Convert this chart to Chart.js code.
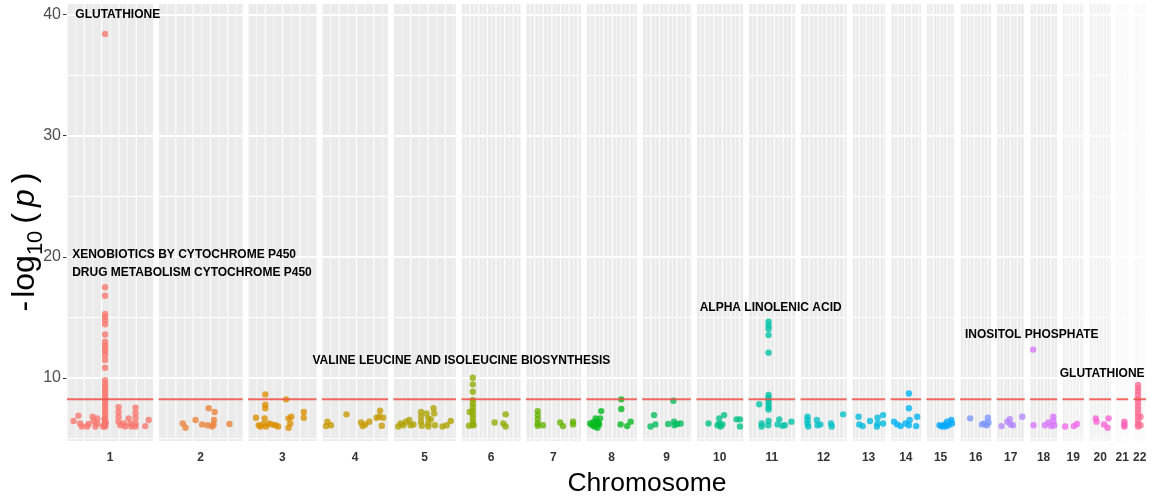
<!DOCTYPE html>
<html>
<head>
<meta charset="utf-8">
<script src="https://cdn.jsdelivr.net/npm/chart.js@4.4.1/dist/chart.umd.min.js"></script>
<style>
  html, body { margin: 0; background: #fff; }
  #wrap { width: 1153px; height: 499px; }
</style>
</head>
<body>
<div id="wrap"><canvas id="manhattan" width="1153" height="499"></canvas></div>
<script>
// chromosome extents (Mb) shown in each facet
const chromosomes = ['1','2','3','4','5','6','7','8','9','10','11','12','13','14','15','16','17','18','19','20','21','22'];
const chromStart = [0, 0, 0, 0, 0, 0, 0, 0, 0, 0, 0, 0, 19, 19, 20, 0, 0, 0, 0, 0, 14, 15];
const chromEnd   = [249, 243, 198, 191, 181, 171, 159, 146, 141, 135, 135, 133, 115, 107, 102, 90, 81, 78, 62, 63, 48, 51];

// SNP position (Mb) and -log10(p), one list per chromosome
const positions = [
  [19, 33, 38, 43, 58, 62, 74, 77, 82, 87, 88, 104,
   110, 110, 110, 110, 110, 110, 110, 110, 110, 110, 110, 110, 110, 110, 110, 110, 110, 110, 110, 110, 110, 110, 110, 110, 110, 110, 110, 110, 110, 110, 110, 108, 112, 108,
   149, 149, 149, 149, 154, 164, 168, 178, 183, 186, 198, 198, 198, 198, 198, 226, 236],
  [70, 78, 107, 126, 142, 145, 155, 159, 160, 162, 205],
  [23, 31, 36, 48, 50, 50, 50, 45, 52, 60, 69, 79, 87, 110, 117, 122, 117, 125, 161, 161],
  [12, 16, 26, 71, 113, 118, 125, 137, 158, 166, 168, 173, 177],
  [14, 21, 29, 36, 46, 50, 58, 80, 80, 80, 82, 96, 101, 101, 101, 108, 116, 118, 120, 142, 154, 166],
  [33, 33, 33, 33, 33, 33, 33, 33, 33, 33, 33, 24, 22, 35, 96, 128, 121, 128],
  [34, 34, 34, 34, 34, 49, 99, 107, 136, 136],
  [11, 17, 24, 30, 37, 27, 43, 40, 32, 35, 20, 101, 101, 99, 118, 128],
  [24, 34, 38, 75, 90, 92, 93, 101, 111],
  [35, 66, 66, 70, 61, 75, 80, 116, 126, 126],
  [58, 58, 58, 58, 58, 58, 58, 58, 58, 58, 58, 31, 38, 38, 58, 57, 89, 84, 98, 105, 124],
  [20, 20, 20, 22, 47, 49, 57, 88, 90, 123],
  [38, 40, 50, 71, 93, 93, 91, 109, 109],
  [29, 38, 48, 62, 72, 72, 74, 72, 96, 93],
  [58, 65, 73, 80, 84, 92, 94, 75],
  [29, 63, 70, 80, 82, 77],
  [14, 31, 38, 40, 47, 74],
  [9, 10, 43, 53, 67, 67, 70, 61],
  [8, 33, 42],
  [19, 21, 43, 56, 53],
  [37, 37, 37],
  [28, 28, 28, 28, 28, 28, 28, 28, 28, 28, 28, 28, 28, 35, 35]
];
const logP = [
  [6.45, 6.9, 6.25, 6.0, 6.0, 6.2, 6.8, 6.45, 6.0, 6.67, 6.25, 6.0,
   38.43, 17.5, 16.8, 15.3, 15.05, 14.75, 14.45, 13.6, 13.0, 12.7, 12.45, 12.2, 11.9, 11.5, 10.85, 9.83, 9.56, 9.28, 9.0, 8.72, 8.45, 8.18, 7.9, 7.65, 7.4, 7.15, 6.9, 6.65, 6.4, 6.15, 6.0, 6.1, 6.3, 6.6,
   7.6, 7.2, 6.8, 6.4, 6.1, 6.25, 6.0, 6.67, 6.25, 6.0, 7.55, 7.1, 6.7, 6.25, 6.0, 6.03, 6.53],
  [6.25, 5.9, 6.53, 6.17, 6.1, 7.5, 6.0, 6.17, 6.53, 7.2, 6.2],
  [6.72, 6.1, 6.0, 6.67, 8.65, 7.8, 7.5, 6.2, 6.0, 6.25, 6.17, 6.1, 6.0, 8.24, 6.67, 6.25, 5.9, 6.8, 7.2, 6.72],
  [6.03, 6.4, 6.1, 7.0, 6.33, 6.03, 6.17, 6.4, 6.72, 6.8, 7.3, 6.06, 6.72],
  [6.0, 6.25, 6.1, 6.4, 6.53, 6.1, 6.17, 7.2, 6.8, 6.4, 6.06, 7.08, 6.67, 6.25, 6.0, 6.59, 7.5, 7.08, 6.1, 6.0, 6.1, 6.45],
  [10.02, 9.48, 8.87, 8.2, 7.9, 7.6, 7.3, 7.0, 6.7, 6.4, 6.15, 7.2, 6.06, 6.1, 6.33, 7.0, 6.25, 6.0],
  [7.27, 6.94, 6.6, 6.25, 6.06, 6.1, 6.33, 6.03, 6.4, 6.17],
  [6.25, 6.1, 6.0, 6.4, 6.17, 6.67, 7.27, 6.67, 5.9, 6.3, 6.35, 8.24, 7.44, 6.17, 6.03, 6.4],
  [6.0, 6.94, 6.17, 6.2, 8.13, 6.4, 6.1, 6.2, 6.25],
  [6.25, 6.67, 6.25, 6.0, 6.1, 6.17, 6.94, 6.59, 6.59, 6.0],
  [14.65, 14.35, 14.05, 13.55, 12.1, 8.6, 8.35, 8.1, 7.85, 7.6, 7.4, 7.83, 6.25, 6.0, 6.45, 6.1, 6.59, 6.17, 6.06, 6.1, 6.4],
  [6.8, 6.53, 6.25, 6.0, 6.53, 6.1, 6.17, 6.25, 6.0, 7.0],
  [6.8, 6.17, 6.03, 6.45, 6.72, 6.25, 6.0, 6.94, 6.25],
  [6.4, 6.17, 6.03, 6.25, 8.73, 7.5, 6.53, 6.1, 6.8, 6.03],
  [6.1, 6.0, 6.17, 6.4, 6.1, 6.53, 6.25, 6.0],
  [6.67, 6.17, 6.25, 6.72, 6.33, 6.1],
  [6.03, 6.4, 6.61, 6.17, 6.1, 6.8],
  [12.35, 6.1, 6.1, 6.33, 6.8, 6.45, 6.1, 6.03],
  [6.0, 6.03, 6.2],
  [6.67, 6.4, 6.17, 6.67, 5.9],
  [6.4, 6.17, 6.0],
  [9.42, 9.15, 8.9, 8.6, 8.3, 8.0, 7.7, 7.4, 7.1, 6.8, 6.5, 6.2, 6.0, 6.8, 6.1]
];

const threshold = 8.24;
const yTicks = [10, 20, 30, 40];

// pathway annotations
const pathwayNames = ['GLUTATHIONE', 'XENOBIOTICS BY CYTOCHROME P450', 'DRUG METABOLISM CYTOCHROME P450',
  'VALINE LEUCINE AND ISOLEUCINE BIOSYNTHESIS', 'ALPHA LINOLENIC ACID', 'INOSITOL PHOSPHATE', 'GLUTATHIONE'];
const pathwayChrom = ['1', '1', '1', '6', '11', '18', '22'];
const pathwayPos = [24, 15, 15, 0, 64, 5, 47];
const pathwayY = [40.04, 20.17, 18.68, 11.4, 15.85, 13.62, 10.33];
const pathwayAlign = ['left', 'left', 'left', 'center', 'center', 'center', 'right'];

const GAP = 15.5;
const FONT = '"Liberation Sans", Arial, Helvetica, sans-serif';

// cumulative offsets so every chromosome sits in its own facet on one linear axis
const offsets = [];
let acc = 0;
chromosomes.forEach((c, i) => {
  offsets.push(acc);
  acc += chromEnd[i] - chromStart[i] + GAP;
});
const xMax = acc - GAP;
const toAxis = (ci, mb) => offsets[ci] + (mb - chromStart[ci]);

// ggplot-style hue palette (polar LUV, l = 65, c = 100)
function hcl(h, c, l) {
  const hr = h * Math.PI / 180;
  const U = c * Math.cos(hr), V = c * Math.sin(hr);
  const Xn = 95.047, Yn = 100, Zn = 108.883;
  const Y = l > 8 ? Yn * Math.pow((l + 16) / 116, 3) : Yn * l / 903.3;
  const den = Xn + 15 * Yn + 3 * Zn;
  const u = U / (13 * l) + 4 * Xn / den;
  const v = V / (13 * l) + 9 * Yn / den;
  const X = 9 * Y * u / (4 * v);
  const Z = -X / 3 - 5 * Y + 3 * Y / v;
  const x = X / 100, y = Y / 100, z = Z / 100;
  const lin = [
    3.240479 * x - 1.537150 * y - 0.498535 * z,
    -0.969256 * x + 1.875992 * y + 0.041556 * z,
    0.055648 * x - 0.204043 * y + 1.057311 * z
  ];
  return lin.map(t => {
    const g = t <= 0.0031308 ? 12.92 * t : 1.055 * Math.pow(t, 1 / 2.4) - 0.055;
    return Math.round(Math.min(1, Math.max(0, g)) * 255);
  });
}
const palette = chromosomes.map((c, i) => hcl(15 + i * 360 / chromosomes.length, 100, 65));

function niceStep(span) {
  const raw = span / 5;
  const mag = Math.pow(10, Math.floor(Math.log10(raw)));
  const n = raw / mag;
  const f = n < 1.5 ? 1 : n < 2.25 ? 2 : n < 3.5 ? 2.5 : n < 7.5 ? 5 : 10;
  return f * mag;
}

const datasets = chromosomes.map((c, i) => {
  const [r, g, b] = palette[i];
  return {
    type: 'scatter',
    label: 'chr' + c,
    data: positions[i].map((p, j) => ({ x: toAxis(i, p), y: logP[i][j] })),
    backgroundColor: `rgba(${r},${g},${b},0.78)`,
    borderWidth: 0,
    pointRadius: 3.2,
    pointHoverRadius: 3.2,
    order: 1
  };
});

// significance line, broken between facets
const thrData = [];
chromosomes.forEach((c, i) => {
  thrData.push({ x: toAxis(i, chromStart[i]), y: threshold });
  thrData.push({ x: toAxis(i, chromEnd[i]), y: threshold });
  thrData.push({ x: toAxis(i, chromEnd[i]) + GAP / 2, y: null });
});
datasets.push({
  type: 'line',
  label: 'threshold',
  data: thrData,
  borderColor: 'rgba(240, 80, 70, 0.85)',
  borderWidth: 2,
  pointRadius: 0,
  spanGaps: false,
  order: 0
});

const facetPanels = {
  id: 'facetPanels',
  beforeDatasetsDraw(chart) {
    const { ctx, chartArea, scales: { x, y } } = chart;
    ctx.save();
    chromosomes.forEach((c, i) => {
      const x0 = x.getPixelForValue(toAxis(i, chromStart[i]));
      const x1 = x.getPixelForValue(toAxis(i, chromEnd[i]));
      ctx.fillStyle = '#EBEBEB';
      ctx.fillRect(x0, chartArea.top, x1 - x0, chartArea.bottom - chartArea.top);
      ctx.strokeStyle = '#FFFFFF';
      // horizontal grid
      [5, 15, 25, 35].forEach(v => {
        const py = y.getPixelForValue(v);
        ctx.lineWidth = 1;
        ctx.beginPath(); ctx.moveTo(x0, py); ctx.lineTo(x1, py); ctx.stroke();
      });
      yTicks.forEach(v => {
        const py = y.getPixelForValue(v);
        ctx.lineWidth = 2;
        ctx.beginPath(); ctx.moveTo(x0, py); ctx.lineTo(x1, py); ctx.stroke();
      });
      // vertical grid from each facet's own breaks
      const step = niceStep(chromEnd[i] - chromStart[i]);
      for (let m = Math.ceil(chromStart[i] / (step / 2)) * (step / 2); m <= chromEnd[i]; m += step / 2) {
        const major = Math.abs(m / step - Math.round(m / step)) < 1e-6;
        const px = x.getPixelForValue(toAxis(i, m));
        ctx.lineWidth = major ? 1.1 : 0.6;
        ctx.beginPath(); ctx.moveTo(px, chartArea.top); ctx.lineTo(px, chartArea.bottom); ctx.stroke();
      }
    });
    ctx.restore();
  },
  afterDatasetsDraw(chart) {
    const { ctx, scales: { x, y } } = chart;
    ctx.save();
    ctx.fillStyle = '#000';
    ctx.font = 'bold 12px ' + FONT;
    ctx.textBaseline = 'middle';
    pathwayNames.forEach((name, k) => {
      const ci = chromosomes.indexOf(pathwayChrom[k]);
      ctx.textAlign = pathwayAlign[k];
      ctx.fillText(name, x.getPixelForValue(toAxis(ci, pathwayPos[k])), y.getPixelForValue(pathwayY[k]));
    });
    ctx.restore();
  },
  afterDraw(chart) {
    const { ctx } = chart;
    ctx.save();
    // x title
    ctx.fillStyle = '#000';
    ctx.font = '26.5px ' + FONT;
    ctx.textAlign = 'center';
    ctx.textBaseline = 'alphabetic';
    ctx.fillText('Chromosome', 647, 491);
    // y title: -log10(p) with subscript and italic p
    const fs = 32, sub = 22;
    const parts = [
      { t: '-', f: fs + 'px ' + FONT, dy: 0, gap: 3 },
      { t: 'log', f: fs + 'px ' + FONT, dy: 0, gap: 0 },
      { t: '10', f: sub + 'px ' + FONT, dy: 8, gap: 7 },
      { t: '(', f: fs + 'px ' + FONT, dy: 0, gap: 6 },
      { t: 'p', f: 'italic ' + fs + 'px ' + FONT, dy: 0, gap: 6 },
      { t: ')', f: fs + 'px ' + FONT, dy: 0, gap: 0 }
    ];
    let total = 0;
    parts.forEach(p => { ctx.font = p.f; p.w = ctx.measureText(p.t).width; total += p.w + p.gap; });
    ctx.translate(34, 242);
    ctx.rotate(-Math.PI / 2);
    ctx.textAlign = 'left';
    let cx = -total / 2;
    parts.forEach(p => { ctx.font = p.f; ctx.fillText(p.t, cx, p.dy); cx += p.w + p.gap; });
    ctx.restore();
  }
};

const centers = chromosomes.map((c, i) => toAxis(i, (chromStart[i] + chromEnd[i]) / 2));

function noPadding(s) {
  s.paddingTop = 0; s.paddingBottom = 0; s.paddingLeft = 0; s.paddingRight = 0;
}

new Chart(document.getElementById('manhattan'), {
  data: { datasets },
  options: {
    responsive: false,
    animation: false,
    layout: { padding: { top: 4, right: 7, left: 0, bottom: 0 } },
    plugins: { legend: { display: false }, tooltip: { enabled: false } },
    scales: {
      x: {
        type: 'linear',
        min: 0,
        max: xMax,
        grid: { display: false, drawTicks: false },
        border: { display: false },
        afterBuildTicks: s => { s.ticks = centers.map(v => ({ value: v })); },
        afterFit: s => { s.height = 58; noPadding(s); },
        ticks: {
          autoSkip: false,
          maxRotation: 0,
          padding: 9,
          color: '#333333',
          font: { family: FONT, size: 12, weight: 'bold' },
          callback: (v, idx) => chromosomes[idx]
        }
      },
      y: {
        type: 'linear',
        min: 4.8,
        max: 40.9,
        grid: { drawOnChartArea: false, drawTicks: true, tickLength: 4, color: '#333333', lineWidth: 1 },
        border: { display: false },
        afterBuildTicks: s => { s.ticks = yTicks.map(v => ({ value: v })); },
        afterFit: s => { s.width = 67; noPadding(s); },
        ticks: {
          padding: 2,
          color: '#4D4D4D',
          font: { family: FONT, size: 16 }
        }
      }
    }
  },
  plugins: [facetPanels]
});
</script>
</body>
</html>
